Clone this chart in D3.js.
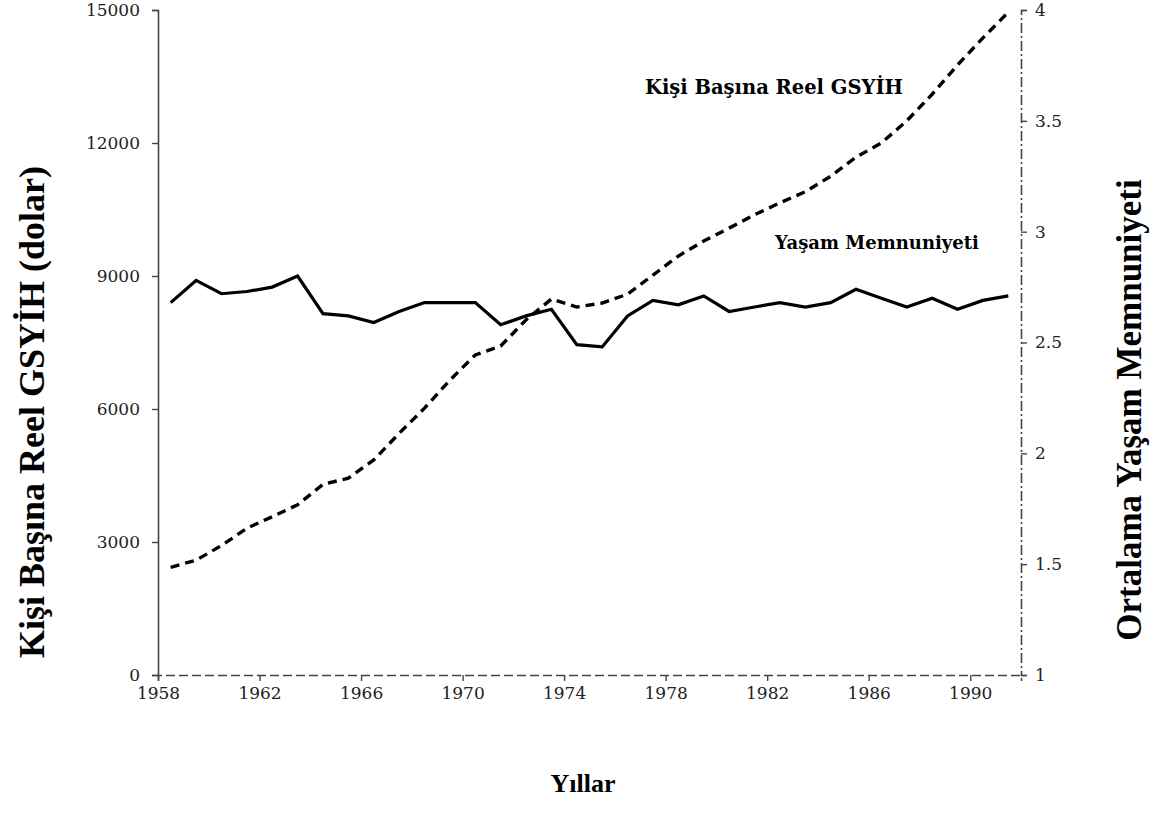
<!DOCTYPE html>
<html>
<head>
<meta charset="utf-8">
<script src="https://cdn.jsdelivr.net/npm/d3@7"></script>
<style>
  body { margin: 0; background: #fff; }
  svg { display: block; }
  .tick text { font-family: "DejaVu Serif", serif; font-size: 17px; fill: #222; }
</style>
</head>
<body>
<script>
// data
const years = [1958, 1959, 1960, 1961, 1962, 1963, 1964, 1965, 1966, 1967, 1968, 1969,
  1970, 1971, 1972, 1973, 1974, 1975, 1976, 1977, 1978, 1979, 1980, 1981, 1982, 1983,
  1984, 1985, 1986, 1987, 1988, 1989, 1990, 1991];

const gdp = [2430, 2590, 2920, 3310, 3570, 3840, 4300, 4440, 4850, 5450, 6020, 6650,
  7220, 7420, 8010, 8480, 8300, 8390, 8590, 9020, 9450, 9790, 10080, 10380, 10650, 10900,
  11250, 11680, 12000, 12500, 13100, 13760, 14370, 14950];

const satisfaction = [2.68, 2.78, 2.72, 2.73, 2.75, 2.80, 2.63, 2.62, 2.59, 2.64, 2.68, 2.68,
  2.68, 2.58, 2.62, 2.65, 2.49, 2.48, 2.62, 2.69, 2.67, 2.71, 2.64, 2.66, 2.68, 2.66,
  2.68, 2.74, 2.70, 2.66, 2.70, 2.65, 2.69, 2.71];

const xTicks = [1958, 1962, 1966, 1970, 1974, 1978, 1982, 1986, 1990];
const leftTicks = [0, 3000, 6000, 9000, 12000, 15000];
const rightTicks = [1, 1.5, 2, 2.5, 3, 3.5, 4];

const w = 1153;
const h = 825;

const m = {
  top: 10,
  right: 132,
  bottom: 150,
  left: 158 };


const svg = d3.select("body").
append("svg").
attr("width", w).
attr("height", h);

// scales
const x = d3.scaleLinear().
domain([1958, 1992]).
range([m.left, w - m.right]);

const yL = d3.scaleLinear().
domain([0, 15000]).
range([h - m.bottom, m.top]);

const yR = d3.scaleLinear().
domain([1, 4]).
range([h - m.bottom, m.top]);

// axes
const xAxis = svg.append("g").
attr("transform", "translate(0," + (h - m.bottom) + ")").
call(d3.axisBottom(x).tickValues(xTicks).tickFormat(d3.format("d")).tickSize(6).tickPadding(6));

const leftAxis = svg.append("g").
attr("transform", "translate(" + m.left + ",0)").
call(d3.axisLeft(yL).tickValues(leftTicks).tickFormat(d3.format("d")).tickSize(6).tickPadding(12));

const rightAxis = svg.append("g").
attr("transform", "translate(" + (w - m.right) + ",0)").
call(d3.axisRight(yR).tickValues(rightTicks).tickFormat(d3.format("")).tickSize(6).tickPadding(8));

svg.selectAll(".domain").
attr("stroke", "#444").
attr("stroke-width", 1.6);

svg.selectAll(".tick line").
attr("stroke", "#444").
attr("stroke-width", 1.4);

// bottom and right axis look dashed in the scan
xAxis.select(".domain").attr("stroke-dasharray", "9,4");
rightAxis.select(".domain").attr("stroke-dasharray", "10,3,2,3");

// lines, plotted at mid-year
const gdpLine = d3.line().
x((d, i) => x(years[i] + 0.5)).
y(d => yL(d));

const satLine = d3.line().
x((d, i) => x(years[i] + 0.5)).
y(d => yR(d));

svg.append("path").
datum(gdp).
attr("d", gdpLine).
attr("fill", "none").
attr("stroke", "#000").
attr("stroke-width", 3.4).
attr("stroke-dasharray", "9,6");

svg.append("path").
datum(satisfaction).
attr("d", satLine).
attr("fill", "none").
attr("stroke", "#000").
attr("stroke-width", 3.2).
attr("stroke-linejoin", "miter");

// series labels
svg.append("text").
attr("x", 774).
attr("y", 94).
attr("text-anchor", "middle").
style("font-family", "DejaVu Serif, serif").
style("font-weight", "bold").
style("font-size", "19.5px").
text("Kişi Başına Reel GSYİH");

svg.append("text").
attr("x", 877).
attr("y", 249).
attr("text-anchor", "middle").
style("font-family", "DejaVu Serif, serif").
style("font-weight", "bold").
style("font-size", "18px").
text("Yaşam Memnuniyeti");

// axis titles
svg.append("text").
attr("transform", "translate(44,412) rotate(-90)").
attr("text-anchor", "middle").
style("font-family", "Liberation Serif, serif").
style("font-weight", "bold").
style("font-size", "36px").
text("Kişi Başına Reel GSYİH (dolar)");

svg.append("text").
attr("transform", "translate(1141,410) rotate(-90)").
attr("text-anchor", "middle").
style("font-family", "Liberation Serif, serif").
style("font-weight", "bold").
style("font-size", "35px").
text("Ortalama Yaşam Memnuniyeti");

svg.append("text").
attr("x", 583).
attr("y", 792).
attr("text-anchor", "middle").
style("font-family", "Liberation Serif, serif").
style("font-weight", "bold").
style("font-size", "26px").
text("Yıllar");
</script>
</body>
</html>
